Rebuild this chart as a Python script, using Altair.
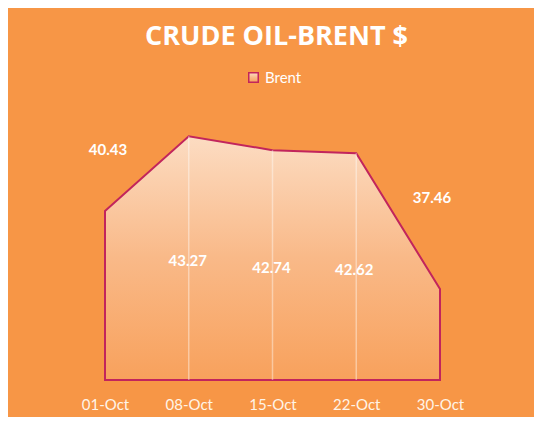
import altair as alt
import pandas as pd

# ---- data ----
DATES = ["01-Oct", "08-Oct", "15-Oct", "22-Oct", "30-Oct"]
PRICES = [40.43, 43.27, 42.74, 42.62, 37.46]
SERIES = "Brent"

# ---- label placement (style, pixels) ----
LABEL_DY = [-61, 125, 118, 117, -91]
LABEL_DX = [3, -1, -1, -2, -8]

BG = "#F79646"
LINE = "#C2255C"
BASE = 34

df = pd.DataFrame({
    "date": DATES,
    "price": PRICES,
    "series": [SERIES] * len(DATES),
})

gradient = alt.Gradient(
    gradient="linear",
    stops=[
        alt.GradientStop(offset=0, color="#F8A15C"),
        alt.GradientStop(offset=0.5, color="#F9B988"),
        alt.GradientStop(offset=1, color="#FCDCC2"),
    ],
    x1=1, x2=1, y1=1, y2=0,
)

yscale = alt.Scale(domain=[BASE, 44], nice=False, zero=False)

base = alt.Chart(df).encode(
    x=alt.X(
        "date:N",
        sort=DATES,
        scale=alt.Scale(type="point", padding=0),
        axis=alt.Axis(
            title=None, labelAngle=0, domain=False, ticks=False, grid=False,
            labelColor="#FFF4E8", labelFont="Lato", labelFontSize=15,
            labelPadding=17,
        ),
    )
)

area = base.mark_area(
    fill=gradient, strokeWidth=2, strokeJoin="miter"
).encode(
    y=alt.Y("price:Q", scale=yscale, axis=None),
    y2=alt.datum(BASE),
    stroke=alt.Stroke(
        "series:N",
        scale=alt.Scale(range=[LINE]),
        legend=alt.Legend(
            title=None, orient="none", legendX=141, legendY=-47,
            symbolType="square", symbolSize=90, symbolFillColor="#F9C9A8",
            symbolStrokeColor=LINE, symbolStrokeWidth=1.5,
            labelColor="white", labelFont="Lato", labelFontSize=15,
            symbolOpacity=1,
        ),
    ),
)

rules = base.transform_filter(
    (alt.datum.date != DATES[0]) & (alt.datum.date != DATES[-1])
).mark_rule(color="white", opacity=0.4, strokeWidth=1.5).encode(
    y=alt.Y("price:Q", scale=yscale),
    y2=alt.datum(BASE),
)

label_layers = []
for d, dy, dx in zip(DATES, LABEL_DY, LABEL_DX):
    label_layers.append(
        base.transform_filter(alt.datum.date == d).mark_text(
            color="white", font="Lato", fontWeight="bold", fontSize=15,
            dy=dy, dx=dx,
        ).encode(
            y=alt.Y("price:Q", scale=yscale),
            text=alt.Text("price:Q", format=".2f"),
        )
    )

chart = alt.layer(area, rules, *label_layers).properties(
    width=335,
    height=263,
    autosize="none",
    padding={"left": 97, "top": 109, "right": 94, "bottom": 37},
    background=BG,
    title=alt.TitleParams(
        "CRUDE OIL-BRENT $", color="white", font="Open Sans",
        fontSize=27, fontWeight="bold", anchor="middle", offset=19, dx=4,
    ),
).configure_view(stroke=None)

chart.save("out.html", embed_options={"renderer": "svg", "actions": False})
